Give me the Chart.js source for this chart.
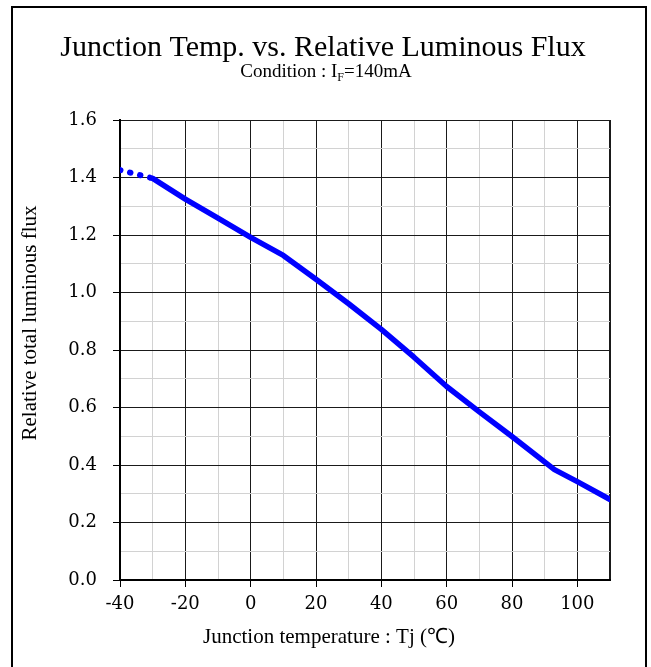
<!DOCTYPE html>
<html>
<head>
<meta charset="utf-8">
<script src="https://cdn.jsdelivr.net/npm/chart.js@4.4.0/dist/chart.umd.min.js"></script>
<style>
html,body{margin:0;padding:0;background:#fff;}
canvas{display:block;}
</style>
</head>
<body>
<canvas id="c" width="651" height="667"></canvas>
<script>
// ---- data ----
const solidTemps = [-30, -20, -10, 0, 10, 20, 30, 40, 50, 60, 70, 80, 93, 100, 110];
const solidFlux  = [1.397, 1.325, 1.259, 1.192, 1.129, 1.046, 0.961, 0.872, 0.775, 0.673, 0.585, 0.499, 0.384, 0.342, 0.280];
const dottedTemps = [-40, -30];
const dottedFlux  = [1.426, 1.397];
const xTickLabels = [-40, -20, 0, 20, 40, 60, 80, 100];
const yTickLabels = ['0.0','0.2','0.4','0.6','0.8','1.0','1.2','1.4','1.6'];
const titleText = 'Junction Temp. vs. Relative Luminous Flux';
const xTitle = 'Junction temperature : Tj (\u2103)';
const yTitle = 'Relative total luminous flux';

const toPts = (xs, ys) => xs.map((x, i) => ({x: x, y: ys[i]}));

const MAJOR = '#1a1a1a';
const MINOR = '#d2d2d2';
const isMajorX = v => xTickLabels.includes(Math.round(v)) || Math.round(v) === 110;
const isMajorY = v => yTickLabels.includes(v.toFixed(1));

const decor = {
  id: 'decor',
  beforeDraw(chart) {
    const ctx = chart.ctx;
    ctx.save();
    ctx.fillStyle = '#fff';
    ctx.fillRect(0, 0, chart.width, chart.height);
    // outer frame
    ctx.strokeStyle = '#000';
    ctx.lineWidth = 2;
    ctx.beginPath();
    ctx.moveTo(12, 670);
    ctx.lineTo(12, 7);
    ctx.lineTo(646, 7);
    ctx.lineTo(646, 670);
    ctx.stroke();
    ctx.restore();
  },
  afterDraw(chart) {
    const ctx = chart.ctx;
    ctx.save();
    ctx.fillStyle = '#000';
    ctx.textBaseline = 'alphabetic';
    // title
    ctx.font = '30px "Liberation Serif"';
    ctx.textAlign = 'center';
    ctx.fillText(titleText, 323, 56);
    // subtitle with subscript
    const partA = 'Condition : I';
    const partB = 'F';
    const partC = '=140mA';
    ctx.font = '19px "Liberation Serif"';
    const wA = ctx.measureText(partA).width;
    const wC = ctx.measureText(partC).width;
    ctx.font = '12px "Liberation Serif"';
    const wB = ctx.measureText(partB).width;
    const total = wA + wB + wC;
    let sx = 326 - total / 2;
    ctx.textAlign = 'left';
    ctx.font = '19px "Liberation Serif"';
    ctx.fillText(partA, sx, 77);
    ctx.font = '12px "Liberation Serif"';
    ctx.fillText(partB, sx + wA, 81);
    ctx.font = '19px "Liberation Serif"';
    ctx.fillText(partC, sx + wA + wB, 77);
    // x axis title
    ctx.font = '21px "Liberation Serif"';
    ctx.textAlign = 'center';
    ctx.fillText(xTitle, 329, 643);
    // y axis title
    ctx.translate(36, 323);
    ctx.rotate(-Math.PI / 2);
    ctx.fillText(yTitle, 0, 0);
    ctx.restore();
  }
};

new Chart(document.getElementById('c'), {
  type: 'scatter',
  data: {
    datasets: [
      {
        data: toPts(solidTemps, solidFlux),
        showLine: true,
        borderColor: '#0000ff',
        borderWidth: 5.5,
        borderCapStyle: 'round',
        borderJoinStyle: 'round',
        pointRadius: 0,
        tension: 0
      },
      {
        data: toPts(dottedTemps, dottedFlux),
        showLine: true,
        borderColor: '#0000ff',
        borderWidth: 6,
        borderCapStyle: 'round',
        borderDash: [0.5, 9.8],
        pointRadius: 0,
        tension: 0
      }
    ]
  },
  options: {
    responsive: false,
    animation: false,
    events: [],
    layout: { padding: { left: 0, right: 41, top: 120, bottom: 37 } },
    plugins: { legend: { display: false }, tooltip: { enabled: false }, title: { display: false } },
    scales: {
      x: {
        type: 'linear',
        min: -40, max: 110,
        afterFit(s) { s.height = 50; },
        afterBuildTicks(s) {
          const t = [];
          for (let v = -40; v <= 110; v += 10) t.push({value: v});
          s.ticks = t;
        },
        border: { display: true, color: '#000', width: 2 },
        grid: {
          color: c => isMajorX(c.tick.value) ? MAJOR : MINOR,
          lineWidth: c => (c.tick.value === 110 ? 2 : 1),
          tickColor: c => (xTickLabels.includes(Math.round(c.tick.value)) ? '#000' : 'rgba(0,0,0,0)'),
          tickLength: 7
        },
        ticks: {
          autoSkip: false,
          maxRotation: 0,
          padding: 7,
          color: '#000',
          font: { family: 'DejaVu Serif', size: 18 },
          callback: v => (xTickLabels.includes(Math.round(v)) ? String(Math.round(v)) : '')
        }
      },
      y: {
        type: 'linear',
        min: 0, max: 1.6,
        afterFit(s) { s.width = 120; },
        afterBuildTicks(s) {
          const t = [];
          for (let i = 0; i <= 16; i++) t.push({value: i / 10});
          s.ticks = t;
        },
        border: { display: true, color: '#000', width: 2 },
        grid: {
          color: c => isMajorY(c.tick.value) ? MAJOR : MINOR,
          lineWidth: 1,
          tickColor: c => (isMajorY(c.tick.value) ? '#000' : 'rgba(0,0,0,0)'),
          tickLength: 7
        },
        ticks: {
          autoSkip: false,
          padding: 16,
          color: '#000',
          font: { family: 'DejaVu Serif', size: 18 },
          callback: v => (isMajorY(v) ? v.toFixed(1) : '')
        }
      }
    }
  },
  plugins: [decor]
});
</script>
</body>
</html>
